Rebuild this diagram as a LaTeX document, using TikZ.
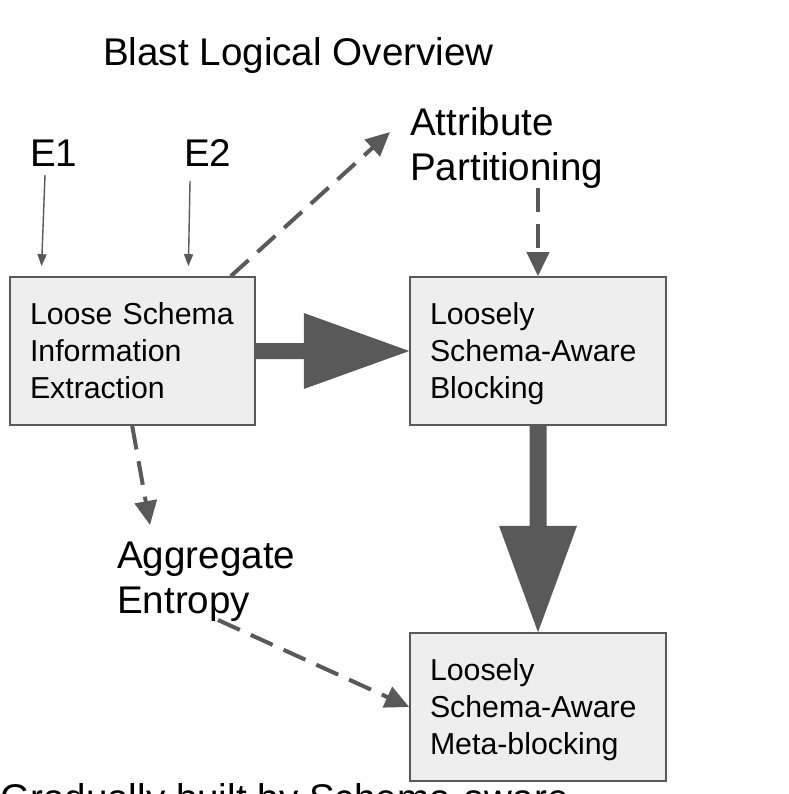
\documentclass[tikz,border=0pt]{standalone}
\usepackage{fontspec}
\setmainfont{Liberation Sans}
\usetikzlibrary{arrows.meta,calc}
\definecolor{arrgray}{HTML}{595959}
\definecolor{boxfill}{HTML}{EEEEEE}
\begin{document}
\begin{tikzpicture}[x=1pt,y=-1pt,
  bigtext/.style={inner sep=0pt,font=\fontsize{38.6}{45}\selectfont,align=left},
  procbox/.style={draw=arrgray,fill=boxfill,line width=1.6pt,inner xsep=20pt,inner ysep=0pt,
    minimum height=148pt,font=\fontsize{30.3}{37}\selectfont,align=left},
  thinarrow/.style={draw=arrgray,line width=1.4pt,-{Triangle[length=12pt,width=9pt]},shorten >=10pt},
  dasharrow/.style={draw=arrgray,line width=4pt,dash pattern=on 24pt off 12pt,-{Triangle[length=24pt,width=22pt]}},
  bigarrow/.style={fill=arrgray}]
\useasboundingbox (0,0) rectangle (788,794);
\fill[white] (0,0) rectangle (788,794);

\node[bigtext,anchor=base west] (title) at (103,66) {Blast Logical Overview};
\node[bigtext,anchor=base west] (e1) at (30,167) {E1};
\node[bigtext,anchor=base west] (e2) at (184,167) {E2};
\node[bigtext,anchor=north west] (attr) at (410,107) {Attribute\\Partitioning};
\node[bigtext,anchor=north west] (agg) at (117,542) {Aggregate\\Entropy};

\node[procbox,minimum width=245pt,text width=205pt] (b1) at (132.5,351) {Loose Schema\\Information\\\smash{Extraction}};
\node[procbox,minimum width=256pt,text width=216pt] (b2) at (538,351) {Loosely\\Schema-Aware\\\smash{Blocking}};
\node[procbox,minimum width=256pt,text width=216pt] (b3) at (538,707) {Loosely\\Schema-Aware\\\smash{Meta-blocking}};

\node[bigtext,anchor=base west] (bottom) at (0,811) {Gradually built by Schema-aware};

% thin input arrows
\draw[thinarrow] ($(e1.south west)+(15,8)$) -- ($(b1.north west)+(32,0)$);
\draw[thinarrow] ($(e2.south west)+(6,14)$) -- ($(b1.north west)+(179,0)$);

% dashed arrows
\draw[dasharrow] ($(b1.north east)+(-25,0)$) -- ($(attr.north west)+(-20,25)$);
\draw[dasharrow] (b2.north |- attr.south) -- (b2.north);
\draw[dasharrow] ($(b1.south west)+(123,0)$) -- ($(agg.north west)+(33,-17)$);
\draw[dasharrow] ($(agg.south west)+(101,-2)$) -- (b3.west);

% big arrows
\fill[bigarrow] ($(b1.east)+(0,-8)$) -- ($(b1.east)+(48,-8)$) -- ($(b1.east)+(48,-38)$)
  -- (b2.west) -- ($(b1.east)+(48,38)$) -- ($(b1.east)+(48,8)$) -- ($(b1.east)+(0,8)$) -- cycle;
\fill[bigarrow] ($(b2.south)+(-8.5,0)$) -- ($(b2.south)+(-8.5,100)$) -- ($(b2.south)+(-39,100)$)
  -- (b3.north) -- ($(b2.south)+(39,100)$) -- ($(b2.south)+(8.5,100)$) -- ($(b2.south)+(8.5,0)$) -- cycle;
\end{tikzpicture}
\end{document}
